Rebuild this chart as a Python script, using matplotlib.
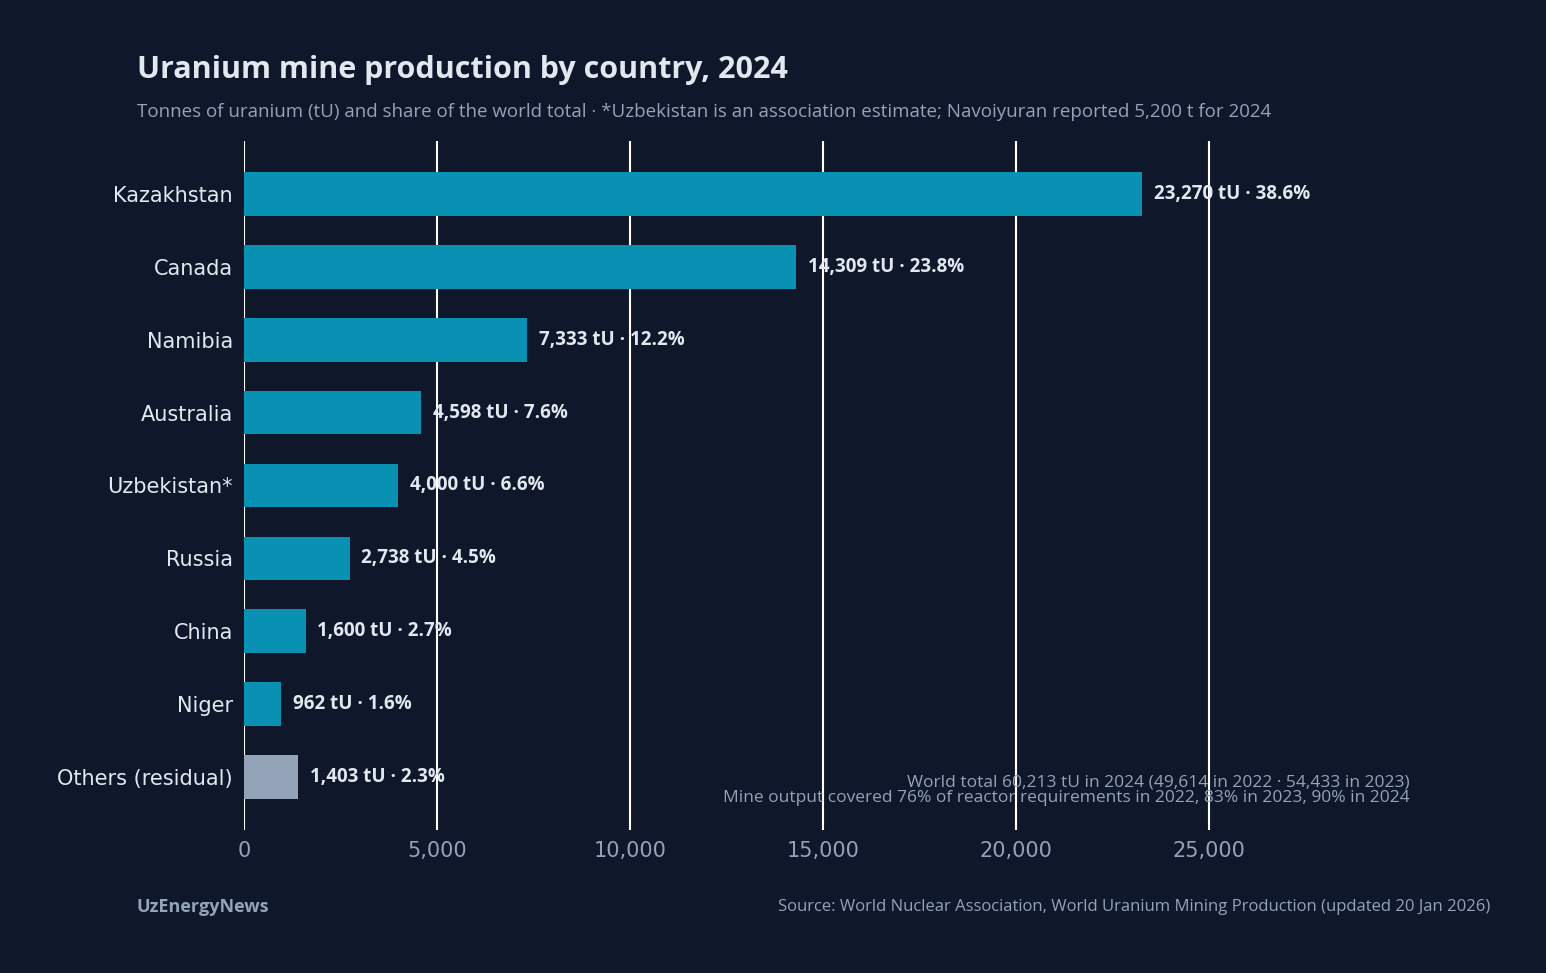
import numpy as np
import matplotlib
matplotlib.use("Agg")
import matplotlib.pyplot as plt

countries = ["Kazakhstan", "Canada", "Namibia", "Australia", "Uzbekistan*",
             "Russia", "China", "Niger", "Others (residual)"]
tonnes = [23270, 14309, 7333, 4598, 4000, 2738, 1600, 962, 1403]
shares = [38.6, 23.8, 12.2, 7.6, 6.6, 4.5, 2.7, 1.6, 2.3]
xticks = [0, 5000, 10000, 15000, 20000, 25000]

BG = "#0f172a"
BAR = "#0891b2"
OTHER = "#94a3b8"
TXT = "#e2e8f0"
MUTED = "#94a3b8"
FONT = "Open Sans"

fig = plt.figure(figsize=(15.46, 9.73), dpi=100, facecolor=BG)
ax = fig.add_axes([244/1546, 1-830/973, (1410-244)/1546, (830-141)/973])
ax.set_facecolor(BG)

y = np.arange(len(countries))
colors = [OTHER if c.startswith("Others") else BAR for c in countries]
ax.barh(y, tonnes, height=0.6, color=colors, zorder=2)
ax.set_xlim(0, 30207)
ax.set_ylim(8.726, -0.726)
for xv in xticks:
    ax.axvline(xv, color="white", lw=1.5, zorder=1)
for i, (t, s) in enumerate(zip(tonnes, shares)):
    ax.text(t + 300, i, f"{t:,} tU · {s}%", va="center", ha="left",
            color=TXT, fontsize=13.5, fontweight="bold", family=FONT, zorder=3)

ax.set_yticks(y, countries)
ax.set_xticks(xticks, [f"{v:,}" for v in xticks])
ax.tick_params(axis="y", length=0, labelsize=15, colors=TXT, pad=8)
ax.tick_params(axis="x", length=0, labelsize=15, colors=MUTED, pad=8)
for sp in ax.spines.values():
    sp.set_visible(False)

ax.text(1.0, 0.058, "World total 60,213 tU in 2024 (49,614 in 2022 · 54,433 in 2023)\n"
        "Mine output covered 76% of reactor requirements in 2022, 83% in 2023, 90% in 2024",
        transform=ax.transAxes, ha="right", va="center", color=MUTED,
        fontsize=12.5, family=FONT, linespacing=1.0)

fig.text(137/1546, 1-70/973, "Uranium mine production by country, 2024", color=TXT,
         fontsize=22, fontweight="bold", family=FONT, va="center")
fig.text(137/1546, 1-112/973,
         "Tonnes of uranium (tU) and share of the world total · *Uzbekistan is an association estimate; "
         "Navoiyuran reported 5,200 t for 2024",
         color=MUTED, fontsize=13.5, family=FONT, va="center")
fig.text(137/1546, 1-907/973, "UzEnergyNews", color=MUTED, fontsize=13,
         fontweight="bold", family=FONT, va="center")
fig.text(1490/1546, 1-907/973,
         "Source: World Nuclear Association, World Uranium Mining Production (updated 20 Jan 2026)",
         color=MUTED, fontsize=12, family=FONT, va="center", ha="right")

fig.savefig("out.png", dpi=100, facecolor=BG)
